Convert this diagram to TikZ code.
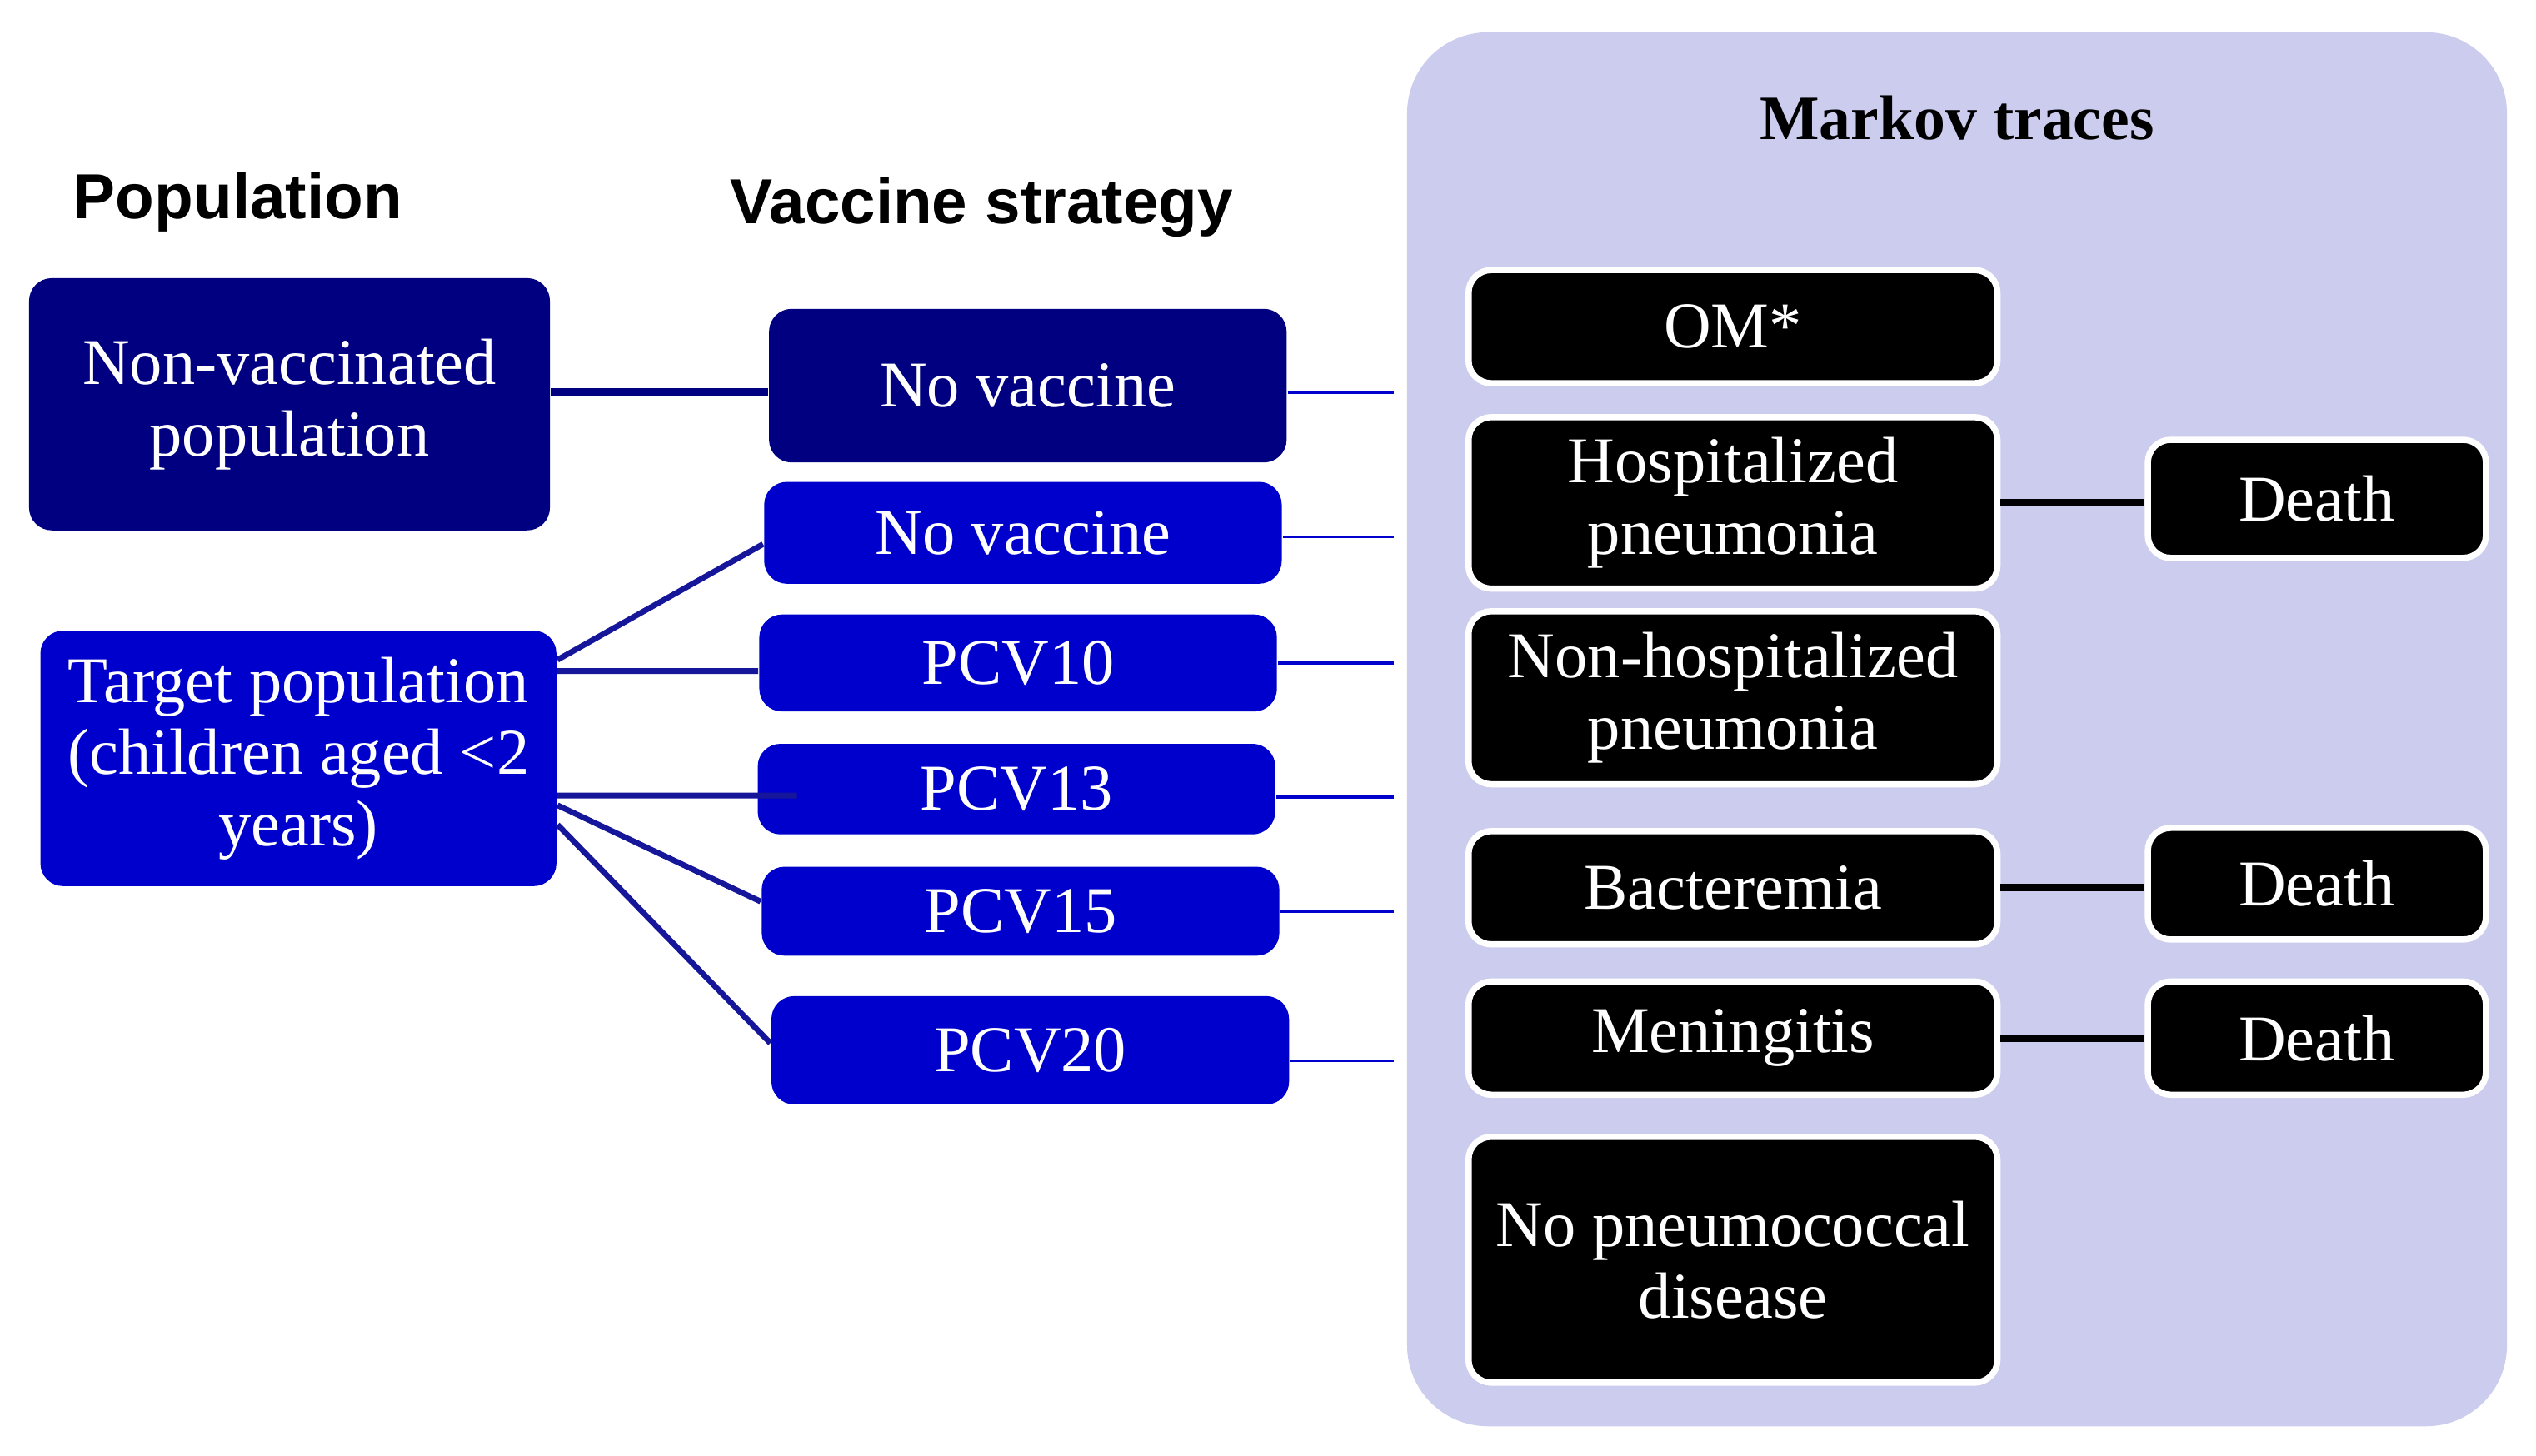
\documentclass[tikz,border=0pt]{standalone}
\usepackage{fontspec}
\setmainfont{Liberation Serif}
\newfontfamily\headfont{Liberation Sans}
\usepackage{xcolor}
\definecolor{navybox}{HTML}{000080}
\definecolor{bluebox}{HTML}{0000CC}
\definecolor{markovbg}{HTML}{CCCCEE}
\definecolor{navyline}{HTML}{16169A}
\tikzset{
  popbox/.style={rounded corners=4pt, text=white, align=center, inner sep=0pt,
    font={\fontsize{11.5}{12.6}\selectfont}},
  vacbox/.style={popbox, fill=bluebox, minimum width=3.2cm},
  statebox/.style={popbox, fill=black, draw=white, line width=1.1pt, minimum width=3.27cm},
  deathbox/.style={statebox, minimum width=2.09cm},
  colhead/.style={font={\headfont\bfseries\fontsize{11.2}{13}\selectfont}},
  tolink/.style={bluebox, line width=0.5pt},
  deathlink/.style={black, line width=1.3pt}
}

\begin{document}
\begin{tikzpicture}
\useasboundingbox (0,0) rectangle (15.68,9.0);

% Markov panel
\fill[markovbg, rounded corners=0.5cm] (8.70,8.80) rectangle (15.50,0.18);
\node[font={\bfseries\fontsize{11.1}{13}\selectfont}] (markhead) at (12.10, 8.27) {Markov traces};
\coordinate (edge) at (8.62, 0);

% Population
\node[colhead] (pophead) at (1.47, 7.75) {Population};
\node[popbox, fill=navybox, minimum width=3.22cm, minimum height=1.56cm] (nonvac) at (1.79, 6.50) {Non-vaccinated\\population};
\node[popbox, fill=bluebox, minimum width=3.19cm, minimum height=1.58cm] (target) at (1.845, 4.31) {Target population\\(children aged <2\\years)};

% Vaccine strategy
\node[colhead] (vachead) at (6.07, 7.72) {Vaccine strategy};
\node[vacbox, fill=navybox, minimum height=0.95cm] (novac1) at (6.355, 6.615) {No vaccine};
\node[vacbox, minimum height=0.63cm] (novac2) at (6.325, 5.705) {No vaccine};
\node[vacbox, minimum height=0.60cm] (pcv10) at (6.295, 4.90) {PCV10};
\node[vacbox, minimum height=0.56cm] (pcv13) at (6.285, 4.12) {PCV13};
\node[vacbox, minimum height=0.55cm] (pcv15) at (6.31, 3.365) {PCV15};
\node[vacbox, minimum height=0.67cm] (pcv20) at (6.37, 2.505) {PCV20};

% population -> strategy
\draw[navybox, line width=1.4pt] ([yshift=-0.04cm]novac1.west -| nonvac.east) -- ([yshift=-0.04cm]novac1.west);
\draw[navyline, line width=1pt] ([yshift=0.61cm]target.east) -- ([yshift=-0.07cm]novac2.west);
\draw[navyline, line width=1pt] ([yshift=0.54cm]target.east) -- ([yshift=-0.05cm]pcv10.west);
\draw[navyline, line width=1pt] ([yshift=-0.23cm]target.east) -- ([yshift=-0.04cm,xshift=0.25cm]pcv13.west);
\draw[navyline, line width=1pt] ([yshift=-0.29cm]target.east) -- ([yshift=0.06cm]pcv15.west);
\draw[navyline, line width=1pt] ([yshift=-0.41cm]target.east) -- ([yshift=0.045cm]pcv20.west);

% strategy -> Markov traces
\draw[tolink] ([yshift=-0.045cm]novac1.east) -- ([yshift=-0.045cm]novac1.east -| edge);
\draw[tolink] ([yshift=-0.025cm]novac2.east) -- ([yshift=-0.025cm]novac2.east -| edge);
\draw[tolink] (pcv10.east) -- (pcv10.east -| edge);
\draw[tolink] ([yshift=-0.05cm]pcv13.east) -- ([yshift=-0.05cm]pcv13.east -| edge);
\draw[tolink] (pcv15.east) -- (pcv15.east -| edge);
\draw[tolink] ([yshift=-0.065cm]pcv20.east) -- ([yshift=-0.065cm]pcv20.east -| edge);

% Markov states
\node[statebox, minimum height=0.70cm] (om) at (10.715, 6.98) {OM*};
\node[statebox, minimum height=1.06cm] (hosp) at (10.715, 5.89) {Hospitalized\\pneumonia};
\node[statebox, minimum height=1.07cm] (nonhosp) at (10.715, 4.685) {Non-hospitalized\\pneumonia};
\node[statebox, minimum height=0.70cm] (bact) at (10.715, 3.51) {Bacteremia};
\node[statebox, minimum height=0.70cm] (men) at (10.715, 2.58) {Meningitis};
\node[statebox, minimum height=1.52cm] (nopneu) at (10.715, 1.21) {No pneumococcal\\disease};

\node[deathbox, minimum height=0.73cm] (death1) at (14.325, 5.915) {Death};
\node[deathbox, minimum height=0.69cm] (death2) at (14.325, 3.535) {Death};
\node[deathbox, minimum height=0.70cm] (death3) at (14.325, 2.58) {Death};

\draw[deathlink] (hosp.east) -- (hosp.east -| death1.west);
\draw[deathlink] (bact.east) -- (bact.east -| death2.west);
\draw[deathlink] (men.east) -- (men.east -| death3.west);
\end{tikzpicture}
\end{document}
